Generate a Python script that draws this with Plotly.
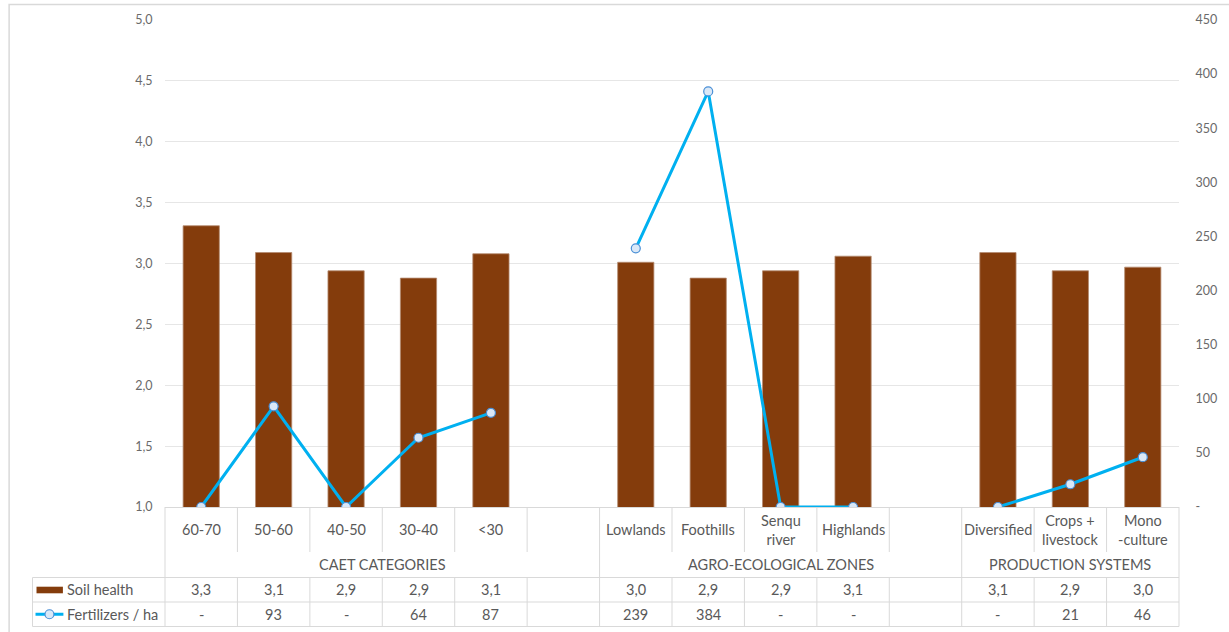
import plotly.graph_objects as go

# ---- data -------------------------------------------------------------
categories = ["60-70", "50-60", "40-50", "30-40", "<30", "",
              "Lowlands", "Foothills", "Senqu<br>river", "Highlands", "",
              "Diversified", "Crops +<br>livestock", "Mono<br>-culture"]
soil_health = [3.31, 3.09, 2.94, 2.88, 3.08, None,
               3.01, 2.88, 2.94, 3.06, None,
               3.09, 2.94, 2.97]
fertilizers = [0, 93, 0, 64, 87, None,
               239, 384, 0, 0, None,
               0, 21, 46]
groups = ["CAET CATEGORIES", "AGRO-ECOLOGICAL ZONES", "PRODUCTION SYSTEMS"]
group_spans = [(0, 5), (6, 10), (11, 13)]      # first/last slot of each group
series_names = ["Soil health", "Fertilizers / ha"]
left_ticks = [1.0, 1.5, 2.0, 2.5, 3.0, 3.5, 4.0, 4.5, 5.0]
right_ticks = [0, 50, 100, 150, 200, 250, 300, 350, 400, 450]

# ---- styling ----------------------------------------------------------
W, H = 1229, 632
M_L, M_R, M_T, M_B = 165, 46, 20, 125
PLOT_W = W - M_L - M_R
PLOT_H = H - M_T - M_B
PLOT_BOTTOM = H - M_B
FONT = "Lato"
TXT = "#595959"
TICK_TXT = "#6a6a6a"
GRID = "#d9d9d9"
GRID_SOFT = "#e6e6e6"
BROWN = "#843C0C"
BLUE = "#00B0F0"
N = len(categories)


def py(pix):
    """pixel row -> paper y"""
    return (PLOT_BOTTOM - pix) / PLOT_H


def px(pix):
    """pixel column -> paper x"""
    return (pix - M_L) / PLOT_W


# table rows (pixel rows below the plot area)
ROW_CAT = (PLOT_BOTTOM, 552)
ROW_GRP = (552, 577.5)
ROW_S1 = (577.5, 602)
ROW_S2 = (602, 626.5)
HEAD_LEFT = 32


def fmt_soil(v):
    return "" if v is None else f"{v:.1f}".replace(".", ",")


def fmt_fert(v):
    if v is None:
        return ""
    return "-" if v == 0 else f"{v:.0f}"


fig = go.Figure()
xs = list(range(N))

fig.add_trace(go.Bar(
    x=xs, y=soil_health, name=series_names[0], width=0.5,
    marker=dict(color=BROWN, line=dict(color="#b48a70", width=0.8)),
    yaxis="y", hoverinfo="skip",
))
fig.add_trace(go.Scatter(
    x=xs, y=fertilizers, name=series_names[1], yaxis="y2",
    mode="lines+markers", connectgaps=False,
    line=dict(color=BLUE, width=3),
    marker=dict(symbol="circle", size=9, color="#DAE8F7",
                line=dict(color="#4A8FD6", width=1.2)),
    hoverinfo="skip",
))

shapes = []
annotations = []


def hline(y, x0, x1, xref="paper"):
    shapes.append(dict(type="line", xref=xref, yref="paper",
                       x0=x0, x1=x1, y0=py(y), y1=py(y),
                       line=dict(color=GRID, width=1)))


def vline(x, y0, y1, xref="x"):
    shapes.append(dict(type="line", xref=xref, yref="paper",
                       x0=x, x1=x, y0=py(y0), y1=py(y1),
                       line=dict(color=GRID, width=1)))


# outer chart frame
shapes.append(dict(type="rect", xref="paper", yref="paper",
                   x0=px(8.5), x1=px(W + 20), y0=py(H + 20), y1=py(4.5),
                   line=dict(color=GRID, width=1.5), layer="below"))

# horizontal table rules
for y in (ROW_S1[0], ROW_S2[0], ROW_S2[1]):
    hline(y, px(HEAD_LEFT), 1)
# left header column border
shapes.append(dict(type="line", xref="paper", yref="paper",
                   x0=px(HEAD_LEFT), x1=px(HEAD_LEFT),
                   y0=py(ROW_S1[0]), y1=py(ROW_S2[1]),
                   line=dict(color=GRID, width=1)))
# outer table edges
for xd in (0, 1):
    vline(xd, ROW_CAT[0], ROW_S2[1], xref="x domain")

# slot separators
group_edges = {s[1] + 0.5 for s in group_spans[:-1]}
for i in range(N - 1):
    b = i + 0.5
    if b in group_edges:
        vline(b, ROW_CAT[0], ROW_S2[1])
    else:
        vline(b, ROW_CAT[0], ROW_CAT[1])
        vline(b, ROW_S1[0], ROW_S2[1])


def mid(r):
    return py((r[0] + r[1]) / 2)


text_font = dict(family=FONT, size=14.5, color=TXT)

for i, lab in enumerate(categories):
    if lab:
        annotations.append(dict(x=i, y=mid(ROW_CAT), xref="x", yref="paper",
                                text=lab, showarrow=False, font=text_font,
                                xanchor="center", yanchor="middle"))
    annotations.append(dict(x=i, y=mid(ROW_S1), xref="x", yref="paper",
                            text=fmt_soil(soil_health[i]), showarrow=False,
                            font=text_font, yanchor="middle"))
    annotations.append(dict(x=i, y=mid(ROW_S2), xref="x", yref="paper",
                            text=fmt_fert(fertilizers[i]), showarrow=False,
                            font=text_font, yanchor="middle"))

for g, (a, b) in zip(groups, group_spans):
    annotations.append(dict(x=(a + b) / 2, y=mid(ROW_GRP), xref="x", yref="paper",
                            text=g, showarrow=False, font=text_font,
                            yanchor="middle"))

# series keys in the table header column
for name, row in zip(series_names, (ROW_S1, ROW_S2)):
    annotations.append(dict(x=px(65), y=mid(row), xref="paper", yref="paper",
                            text=name, showarrow=False, font=text_font,
                            xanchor="left", yanchor="middle"))

shapes.append(dict(type="rect", xref="paper", yref="paper",
                   x0=px(36), x1=px(62.5), y0=py(593.3), y1=py(586.7),
                   fillcolor=BROWN, line=dict(width=0)))
shapes.append(dict(type="line", xref="paper", yref="paper",
                   x0=px(35), x1=px(63), y0=mid(ROW_S2), y1=mid(ROW_S2),
                   line=dict(color=BLUE, width=3)))
shapes.append(dict(type="circle", xref="paper", yref="paper",
                   x0=px(44.5), x1=px(53.5),
                   y0=py((ROW_S2[0] + ROW_S2[1]) / 2 + 4.5),
                   y1=py((ROW_S2[0] + ROW_S2[1]) / 2 - 4.5),
                   fillcolor="#DAE8F7", line=dict(color="#4A8FD6", width=1.2)))

fig.update_layout(
    width=W, height=H,
    margin=dict(l=M_L, r=M_R, t=M_T, b=M_B),
    paper_bgcolor="white", plot_bgcolor="white",
    separators=", ",
    showlegend=False,
    font=dict(family=FONT, color=TXT),
    xaxis=dict(range=[-0.5, N - 0.5], showticklabels=False, showgrid=False,
               zeroline=False, showline=True, linecolor=GRID, linewidth=1,
               ticks=""),
    yaxis=dict(range=[1, 5], tickvals=left_ticks, tickformat=".1f",
               showgrid=True, gridcolor=GRID_SOFT, gridwidth=1, zeroline=False,
               ticks="outside", ticklen=9, tickcolor="rgba(0,0,0,0)",
               tickfont=dict(family=FONT, size=12.5, color=TICK_TXT)),
    yaxis2=dict(range=[0, 450], overlaying="y", side="right",
                tickvals=right_ticks,
                ticktext=["-" if v == 0 else str(v) for v in right_ticks],
                showgrid=False, zeroline=False,
                ticks="outside", ticklen=13, tickcolor="rgba(0,0,0,0)",
                tickfont=dict(family=FONT, size=12.5, color=TICK_TXT)),
    shapes=shapes,
    annotations=annotations,
    bargap=0.5,
)

fig.write_html("out.html")
